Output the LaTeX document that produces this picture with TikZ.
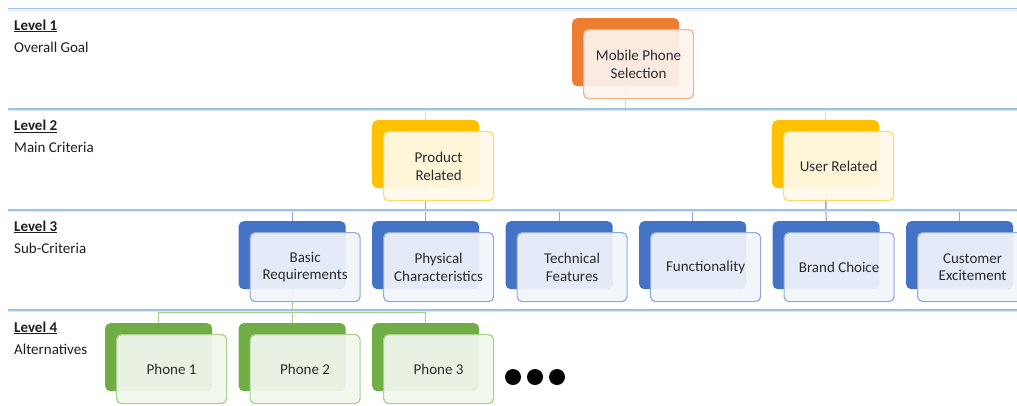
\documentclass[tikz,border=0pt]{standalone}
\usepackage{fontspec}
\setmainfont{Carlito}
\definecolor{txt}{HTML}{2B2B2B}
\definecolor{lbl}{HTML}{1E1E1E}
\definecolor{sep}{HTML}{9DC3E6}
\definecolor{sepshade}{HTML}{DCE8F5}
% orange (goal)
\definecolor{cOr}{HTML}{ED7D31}
\definecolor{cOrline}{HTML}{F4B183}
\definecolor{cOrfill}{HTML}{FDF3EE}
% yellow (main criteria)
\definecolor{cYe}{HTML}{FFC000}
\definecolor{cYeline}{HTML}{FFD966}
\definecolor{cYefill}{HTML}{FFFAEA}
% blue (sub-criteria)
\definecolor{cBl}{HTML}{4472C4}
\definecolor{cBlline}{HTML}{8FAADC}
\definecolor{cBlfill}{HTML}{F1F5FB}
% green (alternatives)
\definecolor{cGr}{HTML}{70AD47}
\definecolor{cGrline}{HTML}{A9D18E}
\definecolor{cGrfill}{HTML}{F2F7EE}
\begin{document}
\begin{tikzpicture}[x=1pt,y=-1pt,
  back/.style={rounded corners=5pt, minimum width=107pt, minimum height=68pt,
    inner sep=0pt, anchor=north west, fill=#1},
  front/.style={rounded corners=5pt, minimum width=110pt, minimum height=69pt,
    inner sep=0pt, anchor=north west, draw=#1line, fill=#1fill,
    fill opacity=0.93, text opacity=1, line width=1.2pt, align=center,
    text=txt, font=\fontsize{15}{17.5}\selectfont},
  link/.style={draw=#1line, line width=1.2pt},
  lvl/.style={anchor=base west, inner sep=0pt, text=lbl,
    font=\fontsize{15}{17.5}\selectfont},
  seprule/.style={draw=sep, line width=1.3pt},
]
\useasboundingbox (0,0) rectangle (1017,405);
\clip (0,0) rectangle (1017,405);

% level labels
\node[lvl] (l1) at (14,30) {\textbf{\underline{Level 1}}};
\node[lvl] (l1d) at (14,52) {Overall Goal};
\node[lvl] (l2) at (14,130.5) {\textbf{\underline{Level 2}}};
\node[lvl] (l2d) at (14,152.5) {Main Criteria};
\node[lvl] (l3) at (14,231) {\textbf{\underline{Level 3}}};
\node[lvl] (l3d) at (14,253) {Sub-Criteria};
\node[lvl] (l4) at (14,332) {\textbf{\underline{Level 4}}};
\node[lvl] (l4d) at (14,354) {Alternatives};

% back cards
\node[back=cOr] (goalb) at (572,18) {};
\node[back=cYe] (prodb) at (372,120) {};
\node[back=cYe] (userb) at (772,120) {};
\node[back=cBl] (basicb) at (238.5,221) {};
\node[back=cBl] (physb) at (372,221) {};
\node[back=cBl] (techb) at (505.5,221) {};
\node[back=cBl] (funcb) at (639,221) {};
\node[back=cBl] (brandb) at (772.5,221) {};
\node[back=cBl] (custb) at (906,221) {};
\node[back=cGr] (ph1b) at (105,323) {};
\node[back=cGr] (ph2b) at (238.5,323) {};
\node[back=cGr] (ph3b) at (372,323) {};

% connectors
\coordinate (barA) at (0,109);
\coordinate (barB) at (0,211);
\coordinate (barC) at (0,312.5);
\draw[link=cYe] (goalb.south) -- (goalb.south |- barA) -| (prodb.north);
\draw[link=cYe] (goalb.south |- barA) -| (userb.north);
\draw[link=cBl] (prodb.south) -- (prodb.south |- barB) -| (basicb.north);
\draw[link=cBl] (prodb.south |- barB) -| (techb.north);
\draw[link=cBl] (prodb.south) -- (physb.north);
\draw[link=cBl] (userb.south) -- (userb.south |- barB) -| (funcb.north);
\draw[link=cBl] (userb.south |- barB) -| (custb.north);
\draw[link=cBl] (userb.south) -- (brandb.north);
\draw[link=cGr] (basicb.south) -- (basicb.south |- barC) -| (ph1b.north);
\draw[link=cGr] (basicb.south |- barC) -| (ph3b.north);
\draw[link=cGr] (basicb.south) -- (ph2b.north);

% front cards
\node[front=cOr] (goal) at (583,29) {Mobile Phone\\Selection};
\node[front=cYe] (prod) at (383,131) {Product\\Related};
\node[front=cYe] (user) at (783,131) {User Related};
\node[front=cBl] (basic) at (249.5,232) {Basic\\Requirements};
\node[front=cBl] (phys) at (383,232) {Physical\\Characteristics};
\node[front=cBl] (tech) at (516.5,232) {Technical\\Features};
\node[front=cBl] (func) at (650,232) {Functionality};
\node[front=cBl] (brand) at (783.5,232) {Brand Choice};
\node[front=cBl] (cust) at (917,232) {Customer\\Excitement};
\node[front=cGr] (ph1) at (116,334) {Phone 1};
\node[front=cGr] (ph2) at (249.5,334) {Phone 2};
\node[front=cGr] (ph3) at (383,334) {Phone 3};

% ellipsis after the alternatives
\fill (513,377) circle (8pt);
\fill (535,377) circle (8pt);
\fill (557,377) circle (8pt);

% level separators
\foreach \yy in {8.5,109,210,310}{
  \draw[sepshade, line width=1pt] (8,\yy+1.6) -- (1017,\yy+1.6);
  \draw[seprule] (8,\yy) -- (1017,\yy);
}
\end{tikzpicture}
\end{document}
